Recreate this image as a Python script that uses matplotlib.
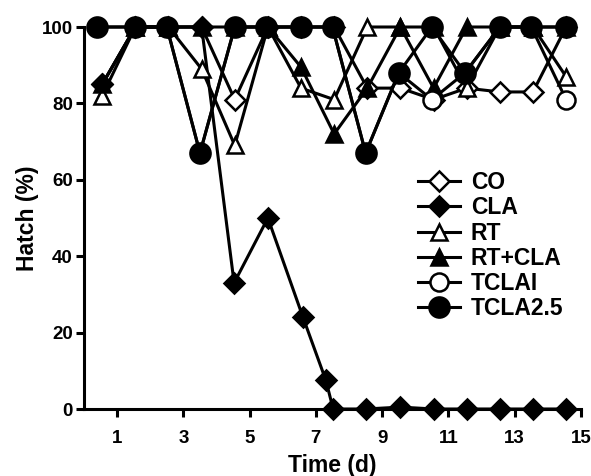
import matplotlib
matplotlib.use("Agg")
import matplotlib.pyplot as plt

plt.rcParams['font.family'] = ['Liberation Sans', 'DejaVu Sans']
plt.rcParams['font.weight'] = 'bold'

# ---- data ----
days = [0.55, 1.55, 2.55, 3.55, 4.55, 5.55, 6.55, 7.55, 8.55, 9.55, 10.55, 11.55, 12.55, 13.55, 14.55]
days_tcla = [0.4, 1.55, 2.5, 3.5, 4.55, 5.5, 6.55, 7.5, 8.5, 9.5, 10.5, 11.5, 12.55, 13.5, 14.55]
days_cla = [0.55, 1.55, 2.55, 3.55, 4.53, 5.55, 6.61, 7.3, 7.52, 8.51, 9.55, 10.55, 11.55, 12.55, 13.55, 14.55]

co = [85, 100, 100, 100, 81, 100, 100, 100, 84, 84, 81, 84, 83, 83, 100]
cla = [85, 100, 100, 100, 33, 50, 24, 7.5, 0, 0, 0.5, 0, 0, 0, 0, 0]
rt = [82, 100, 100, 89, 69, 100, 84, 81, 100, 100, 100, 84, 100, 100, 87]
rt_cla = [85, 100, 100, 100, 100, 100, 89.5, 72, 84, 100, 84, 100, 100, 100, 100]
tclai = [100, 100, 100, 67, 100, 100, 100, 100, 67, 88, 81, 88, 100, 100, 81]
tcla25 = [100, 100, 100, 67, 100, 100, 100, 100, 67, 88, 100, 88, 100, 100, 100]

labels = ['CO', 'CLA', 'RT', 'RT+CLA', 'TCLAI', 'TCLA2.5']
xticks = [1, 3, 5, 7, 9, 11, 13, 15]
yticks = [0, 20, 40, 60, 80, 100]

fig = plt.figure(figsize=(5.91, 4.76), dpi=100)
ax = fig.add_axes([84/591, 1-409/476, (581-84)/591, (409-27)/476])

lw = 2.2
mew = 1.8
common = dict(color='black', lw=lw, mew=mew, clip_on=False)
ax.plot(days, co, marker='D', ms=10, mfc='white', mec='black', label=labels[0], zorder=3, **common)
ax.plot(days_cla, cla, marker='D', ms=10, mfc='black', mec='black', label=labels[1], zorder=4, **common)
ax.plot(days, rt, marker='^', ms=12, mfc='white', mec='black', label=labels[2], zorder=5, **common)
ax.plot(days, rt_cla, marker='^', ms=12, mfc='black', mec='black', label=labels[3], zorder=6, **common)
ax.plot(days_tcla, tclai, marker='o', ms=13, mfc='white', mec='black', label=labels[4], zorder=7, **common)
ax.plot(days_tcla, tcla25, marker='o', ms=14.5, mfc='black', mec='black', label=labels[5], zorder=8, **common)

ax.set_xlim(0, 15)
ax.set_ylim(0, 100)
ax.set_xticks(xticks)
ax.set_xticklabels([str(t) for t in xticks])
ax.set_yticks(yticks)
ax.set_yticklabels([str(t) for t in yticks])
for s in ['top', 'right']:
    ax.spines[s].set_visible(False)
for s in ['left', 'bottom']:
    ax.spines[s].set_linewidth(2.2)
ax.tick_params(axis='both', direction='out', length=6, width=2.2, labelsize=13.5, color='black')
ax.tick_params(axis='x', pad=9)
ax.tick_params(axis='y', pad=2)
ax.set_xlabel('Time (d)', fontsize=16.5, fontweight='bold', labelpad=5)
ax.set_ylabel('Hatch (%)', fontsize=16.5, fontweight='bold', labelpad=2)

leg = ax.legend(loc='upper left', bbox_to_anchor=((418-84)/497, (409-171)/382),
                frameon=False, prop={'size': 16.5, 'weight': 'bold'},
                handlelength=1.85, handletextpad=0.45,
                labelspacing=0.1, borderpad=0, borderaxespad=0)

fig.savefig('out.png', dpi=100)
